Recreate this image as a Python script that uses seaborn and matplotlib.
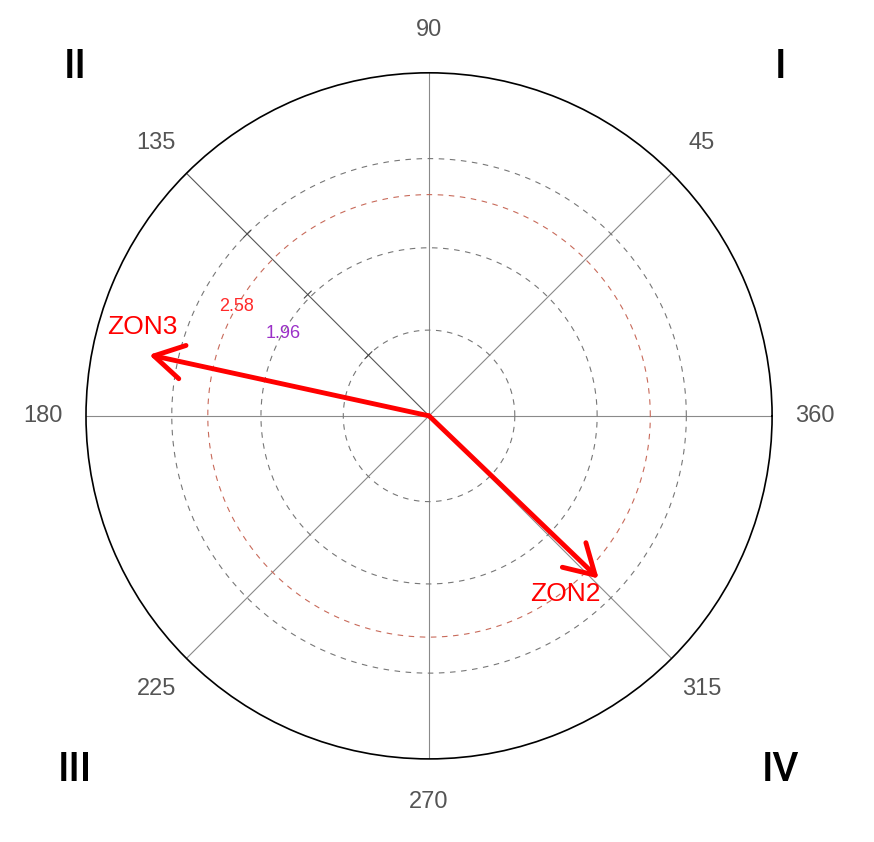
import numpy as np
import pandas as pd
import matplotlib
matplotlib.use("Agg")
import matplotlib.pyplot as plt
import seaborn as sns

# angle labels around the rim (degrees)
angle_ticks = [0, 45, 90, 135, 180, 225, 270, 315]
angle_labels = ["360", "45", "90", "135", "180", "225", "270", "315"]

# reference circles (radius) and their colours
circle_radii = [1, 1.96, 2.58, 3]
circle_colors = ["#777777", "#777777", "#c86a5a", "#777777"]

# significance labels
sig_values = [2.58, 1.96]
sig_colors = ["#ff2a2a", "#9b30c8"]

# vectors: name, direction (deg), magnitude
zone_names = ["ZON2", "ZON3"]
zone_angles = [316.2, 167.7]
zone_mags = [2.74, 3.34]

quadrants = ["I", "II", "III", "IV"]

sns.set_style("white")
plt.rcParams["font.family"] = ["Liberation Sans", "DejaVu Sans"]

fig = plt.figure(figsize=(8.74, 8.42), dpi=100)
ax = fig.add_axes([0.0984, 0.0986, 0.785, 0.815], projection="polar")
ax.set_ylim(0, 4)
ax.set_xticks([])
ax.set_yticks([])
ax.grid(False)
ax.spines["polar"].set_color("black")
ax.spines["polar"].set_linewidth(1.2)

# radial spokes every 45 degrees
for a in angle_ticks:
    t = np.deg2rad(a)
    spoke = pd.DataFrame({"theta": [t, t], "r": [0, 4]})
    sns.lineplot(data=spoke, x="theta", y="r", ax=ax, sort=False, estimator=None,
                 color="#555555" if a == 135 else "#8a8a8a", lw=0.8)

# dashed reference circles
theta = np.linspace(0, 2 * np.pi, 400)
for rad, col in zip(circle_radii, circle_colors):
    circ = pd.DataFrame({"theta": theta, "r": np.full_like(theta, rad)})
    sns.lineplot(data=circ, x="theta", y="r", ax=ax, sort=False, estimator=None,
                 color=col, lw=0.8, linestyle=(0, (5, 5)))

# small tick marks along the 135 spoke
scale = 343 / 4.0
for r in [1, 2, 3, 4]:
    d = np.arctan(5 / (r * scale))
    t = np.deg2rad(135)
    ax.plot([t - d, t + d], [r / np.cos(d), r / np.cos(d)], color="#444444", lw=0.8)

# rim labels
for a, lab in zip(angle_ticks, angle_labels):
    ax.text(np.deg2rad(a), 4.5, lab, ha="center", va="center", fontsize=17,
            color="#555555", clip_on=False)

# significance labels, sitting on their circles
for v, c in zip(sig_values, sig_colors):
    ax.text(np.deg2rad(150.5), v, f"{v:.2f}", color=c, fontsize=13,
            ha="center", va="center")

# vectors
label_off = {"ZON2": (307.4, 2.62), "ZON3": (162.7, 3.5)}
for name, a, m in zip(zone_names, zone_angles, zone_mags):
    ax.annotate("", xy=(np.deg2rad(a), m), xytext=(0, 0),
                arrowprops=dict(arrowstyle="->,head_length=0.6,head_width=0.35",
                                color="red", lw=3.5, mutation_scale=35,
                                shrinkA=0, shrinkB=0))
    la, lr = label_off[name]
    ax.text(np.deg2rad(la), lr, name, color="red", fontsize=19,
            ha="center", va="center")

# quadrant numerals
quad_pos = [(780, 67), (75, 67), (75, 770), (780, 770)]
for q, (px, py) in zip(quadrants, quad_pos):
    fig.text(px / 874, 1 - py / 842, q, fontsize=29, ha="center", va="center",
             color="black", family=["Roboto", "DejaVu Sans"], fontweight="medium")

fig.savefig("out.png", dpi=100, facecolor="white")
